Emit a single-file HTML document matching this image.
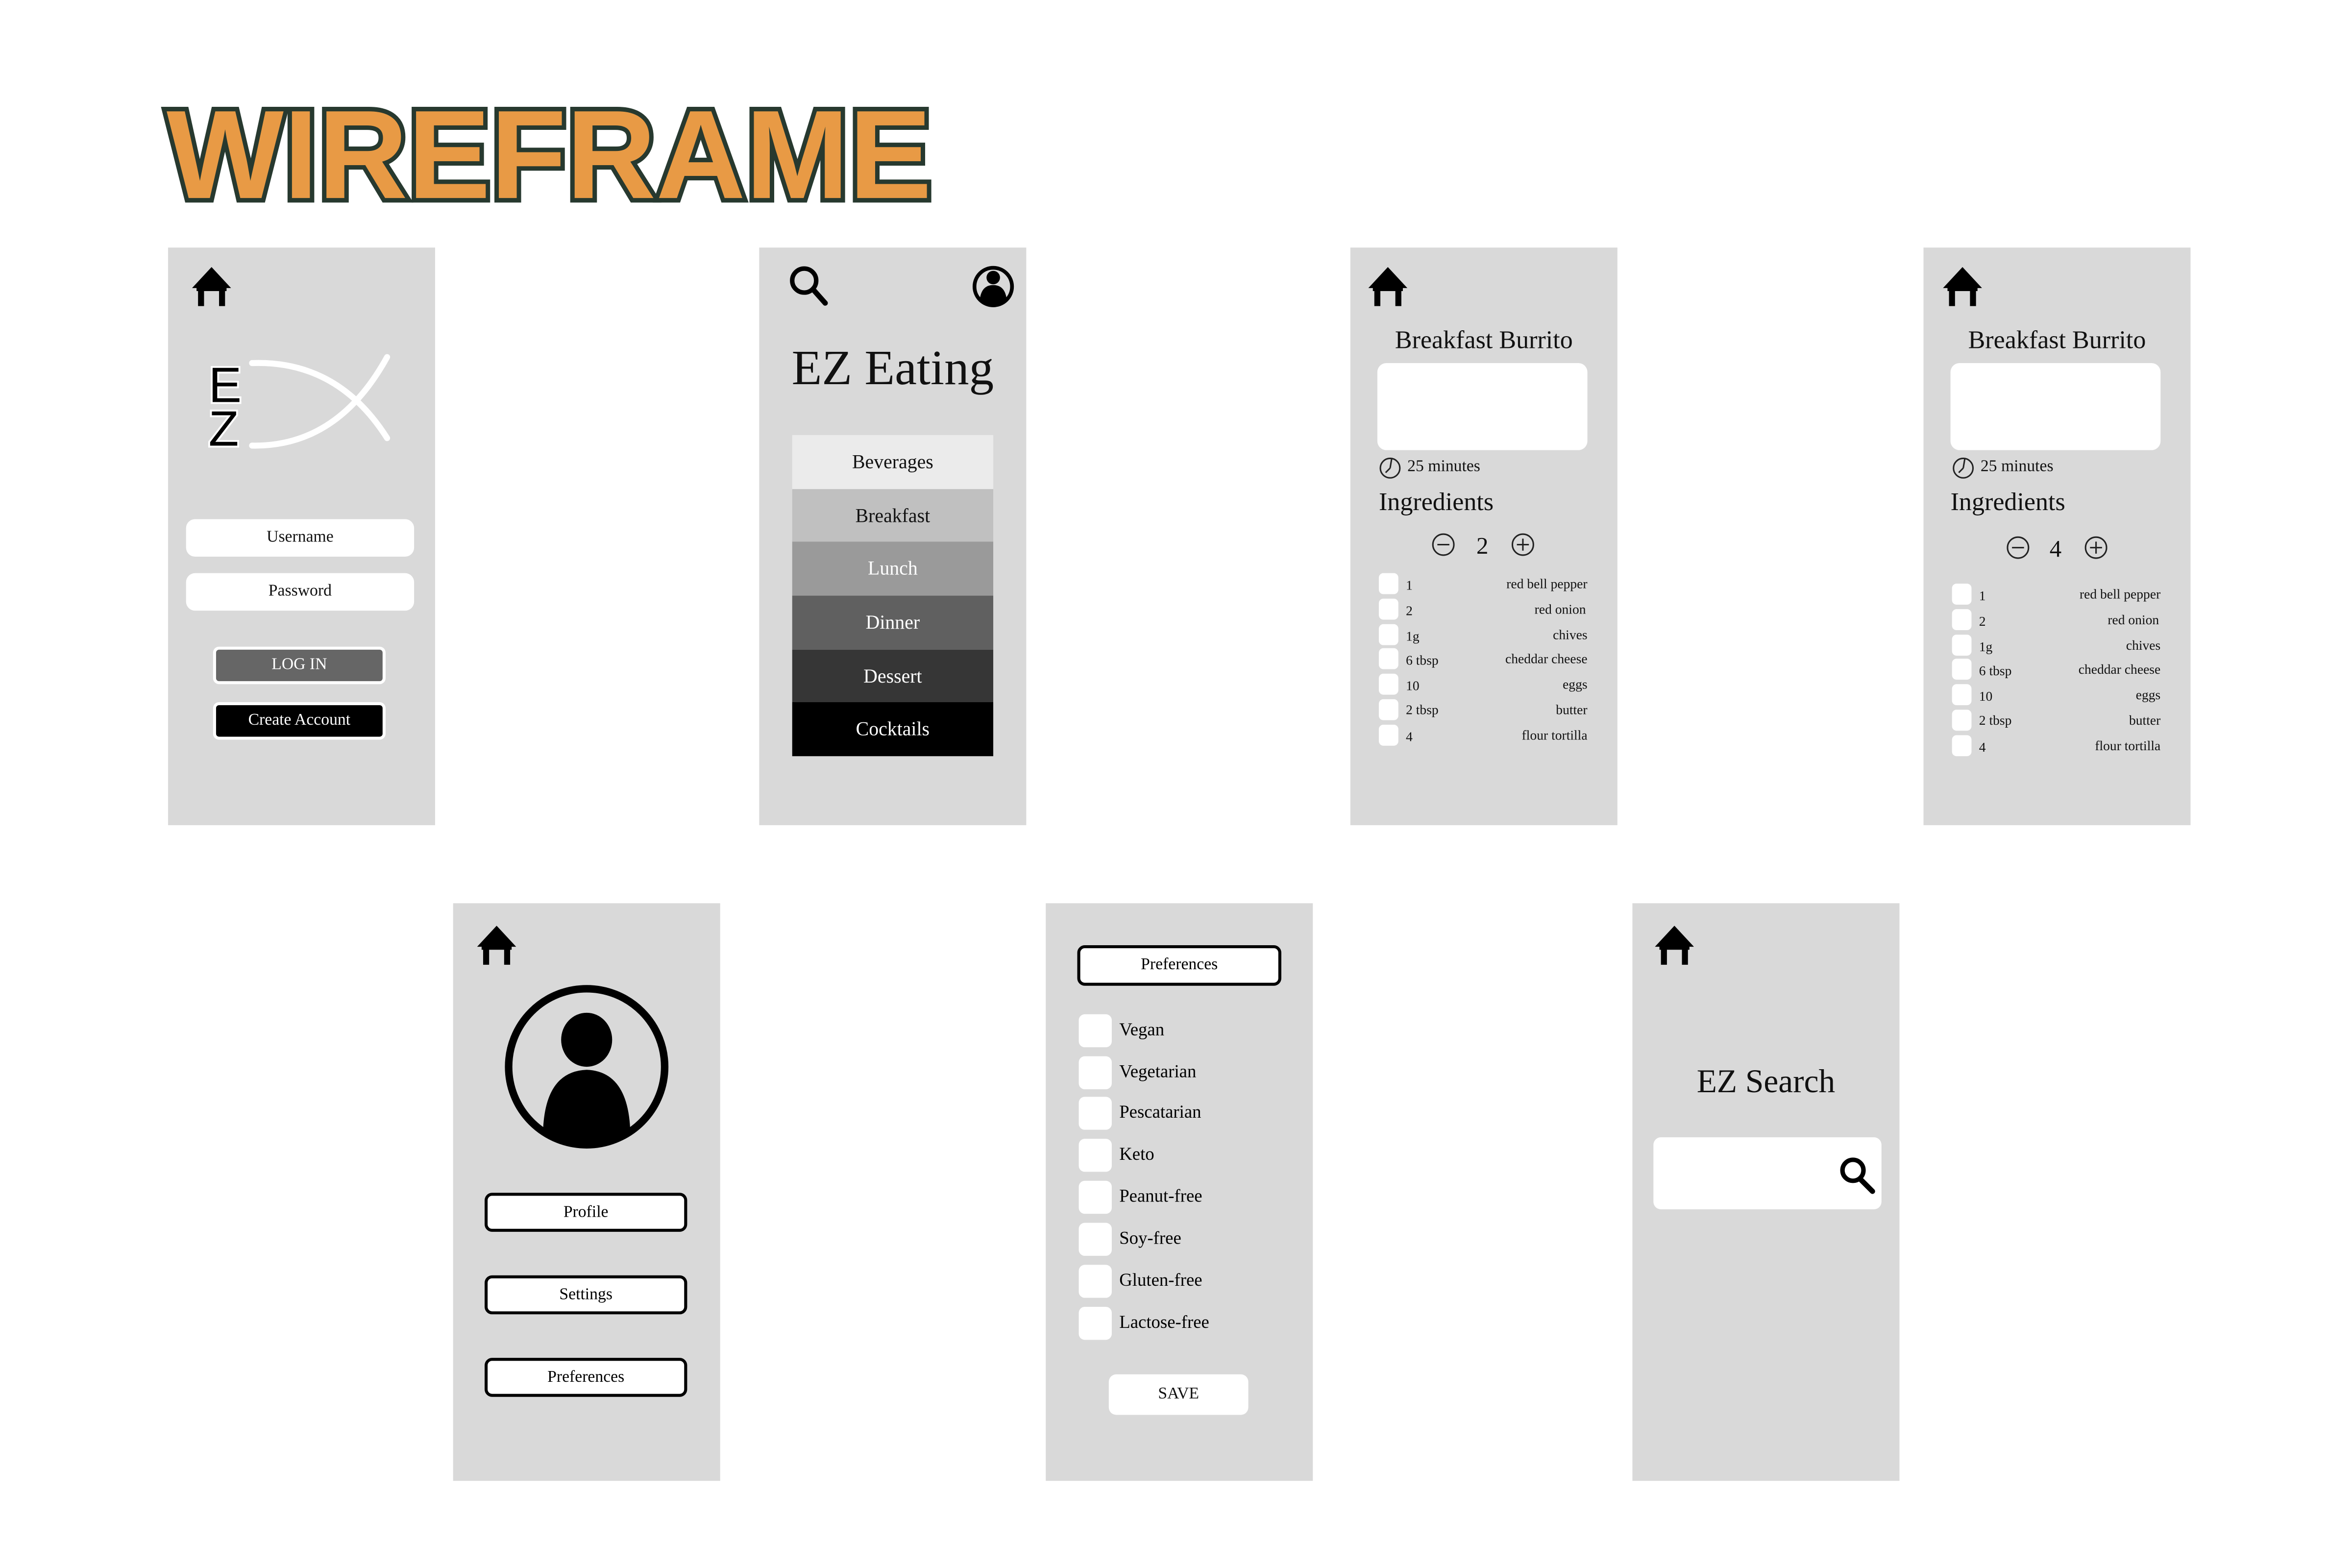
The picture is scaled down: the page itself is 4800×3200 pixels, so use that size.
<!DOCTYPE html>
<html><head><meta charset="utf-8"><style>
html,body{margin:0;padding:0;background:#fff;width:4800px;height:3200px;overflow:hidden}
#s{position:absolute;left:0;top:0;width:1560px;height:1040px;transform:scale(3.062);transform-origin:0 0;font-family:"Liberation Serif",serif}
.a{position:absolute}
.p{position:absolute;background:#d9d9d9;width:178px;height:385px}
.box{position:absolute;background:#fff;border-radius:6px;text-align:center;font-size:11px;color:#111}
.ob{position:absolute;background:#fff;border:2px solid #000;border-radius:5px;text-align:center;font-size:11px;box-sizing:border-box}
.cb{position:absolute;background:#fff;border-radius:3px}
.row{position:absolute;font-size:9px;color:#111;height:14px;line-height:14px}
.menu div{height:35.7px;line-height:35.7px;text-align:center;font-size:13px}
</style></head><body><div id="s">
<svg class="a" style="left:0;top:0" width="1560" height="1040">
<defs><g id="home"><polygon points="13,0 26,14 0,14" fill="#000"/><rect x="3" y="13" width="20" height="3" fill="#000"/><rect x="4" y="14" width="4" height="12" fill="#000"/><rect x="18" y="14" width="4" height="12" fill="#000"/></g></defs>
<text x="111" y="132" font-family="Liberation Sans,sans-serif" font-weight="bold" font-size="84" textLength="510" lengthAdjust="spacingAndGlyphs" fill="#e89a45" stroke="#27392f" stroke-width="6" paint-order="stroke">WIREFRAME</text>
</svg>

<!-- P1 -->
<div class="p" style="left:112px;top:165px"></div>
<svg class="a" style="left:0;top:0" width="1560" height="1040">
<use href="#home" x="128" y="178"/>
<path d="M168 242 Q225 240 258 292" stroke="#fff" stroke-width="4" fill="none" stroke-linecap="round"/>
<path d="M168 297 Q225 298 258 238" stroke="#fff" stroke-width="4" fill="none" stroke-linecap="round"/>
<text x="139" y="268" font-family="Liberation Sans,sans-serif" font-size="33" fill="#000" stroke="#fff" stroke-width="2.5" paint-order="stroke">E</text>
<text x="139" y="297" font-family="Liberation Sans,sans-serif" font-size="33" fill="#000" stroke="#fff" stroke-width="2.5" paint-order="stroke">Z</text>
</svg>
<div class="box" style="left:124px;top:346px;width:152px;height:25px;line-height:25px">Username</div>
<div class="box" style="left:124px;top:382px;width:152px;height:25px;line-height:25px">Password</div>
<div class="a" style="left:142px;top:431px;width:115px;height:25px;box-sizing:border-box;border:2px solid #fff;border-radius:4px;background:#666;color:#fff;font-size:11px;text-align:center;line-height:21px">LOG IN</div>
<div class="a" style="left:142px;top:468px;width:115px;height:25px;box-sizing:border-box;border:2px solid #fff;border-radius:4px;background:#000;color:#fff;font-size:11px;text-align:center;line-height:21px">Create Account</div>

<!-- P2 -->
<div class="p" style="left:506px;top:165px"></div>
<svg class="a" style="left:0;top:0" width="1560" height="1040">
<circle cx="536" cy="187" r="8" stroke="#000" stroke-width="3" fill="none"/>
<line x1="542" y1="193" x2="550" y2="202" stroke="#000" stroke-width="3.5" stroke-linecap="round"/>
<circle cx="662" cy="191" r="12.5" stroke="#000" stroke-width="2.5" fill="none"/>
<circle cx="662" cy="185" r="4.5" fill="#000"/>
<path d="M653 200 Q654 190 662 190 Q670 190 671 200 Q662 206 653 200Z" fill="#000"/>
</svg>
<div class="a" style="left:506px;top:228px;width:178px;text-align:center;font-size:33px;color:#111">EZ Eating</div>
<div class="a menu" style="left:528px;top:290px;width:134px">
<div style="background:#ebebeb;color:#111">Beverages</div>
<div style="background:#c0c0c0;color:#111">Breakfast</div>
<div style="background:#9a9a9a;color:#fff">Lunch</div>
<div style="background:#606060;color:#fff">Dinner</div>
<div style="background:#363636;color:#fff">Dessert</div>
<div style="background:#000;color:#fff">Cocktails</div>
</div>

<!-- P3 & P4 -->
<div class="p" style="left:900px;top:165px"></div>
<div class="p" style="left:1282px;top:165px"></div>
<svg class="a" style="left:0;top:0" width="1560" height="1040">
<use href="#home" x="912" y="178"/><use href="#home" x="1295" y="178"/>
<g fill="none" stroke="#222" stroke-width="1">
<circle cx="926.5" cy="312" r="6.5"/><line x1="926.5" y1="312" x2="927.5" y2="306"/><line x1="926.5" y1="312" x2="923.5" y2="315"/>
<circle cx="1308.5" cy="312" r="6.5"/><line x1="1308.5" y1="312" x2="1309.5" y2="306"/><line x1="1308.5" y1="312" x2="1305.5" y2="315"/>
<circle cx="962" cy="363" r="7"/><line x1="958" y1="363" x2="966" y2="363"/>
<circle cx="1015" cy="363" r="7"/><line x1="1011" y1="363" x2="1019" y2="363"/><line x1="1015" y1="359" x2="1015" y2="367"/>
<circle cx="1345" cy="365" r="7"/><line x1="1341" y1="365" x2="1349" y2="365"/>
<circle cx="1397" cy="365" r="7"/><line x1="1393" y1="365" x2="1401" y2="365"/><line x1="1397" y1="361" x2="1397" y2="369"/>
</g>
<text x="988" y="369" font-size="16" text-anchor="middle" font-family="Liberation Serif,serif" fill="#111">2</text>
<text x="1370" y="371" font-size="16" text-anchor="middle" font-family="Liberation Serif,serif" fill="#111">4</text>
</svg>
<div class="a" style="left:900px;top:217px;width:178px;text-align:center;font-size:17px;color:#111">Breakfast Burrito</div>
<div class="a" style="left:1282px;top:217px;width:178px;text-align:center;font-size:17px;color:#111">Breakfast Burrito</div>
<div class="box" style="left:918px;top:242px;width:140px;height:58px"></div>
<div class="box" style="left:1300px;top:242px;width:140px;height:58px"></div>
<div class="a" style="left:938px;top:305px;font-size:11px;color:#111">25 minutes</div>
<div class="a" style="left:1320px;top:305px;font-size:11px;color:#111">25 minutes</div>
<div class="a" style="left:919px;top:325px;font-size:17px;color:#111">Ingredients</div>
<div class="a" style="left:1300px;top:325px;font-size:17px;color:#111">Ingredients</div>
<!-- rows P3 -->
<div class="cb" style="left:919px;top:382px;width:13px;height:14px"></div><div class="row" style="left:937px;top:383px">1</div><div class="row" style="left:960px;top:382px;width:98px;text-align:right">red bell pepper</div>
<div class="cb" style="left:919px;top:399px;width:13px;height:14px"></div><div class="row" style="left:937px;top:400px">2</div><div class="row" style="left:960px;top:399px;width:97px;text-align:right">red onion</div>
<div class="cb" style="left:919px;top:416px;width:13px;height:14px"></div><div class="row" style="left:937px;top:417px">1g</div><div class="row" style="left:960px;top:416px;width:98px;text-align:right">chives</div>
<div class="cb" style="left:919px;top:432px;width:13px;height:14px"></div><div class="row" style="left:937px;top:433px">6 tbsp</div><div class="row" style="left:960px;top:432px;width:98px;text-align:right">cheddar cheese</div>
<div class="cb" style="left:919px;top:449px;width:13px;height:14px"></div><div class="row" style="left:937px;top:450px">10</div><div class="row" style="left:960px;top:449px;width:98px;text-align:right">eggs</div>
<div class="cb" style="left:919px;top:466px;width:13px;height:14px"></div><div class="row" style="left:937px;top:466px">2 tbsp</div><div class="row" style="left:960px;top:466px;width:98px;text-align:right">butter</div>
<div class="cb" style="left:919px;top:483px;width:13px;height:14px"></div><div class="row" style="left:937px;top:484px">4</div><div class="row" style="left:960px;top:483px;width:98px;text-align:right">flour tortilla</div>
<!-- rows P4 -->
<div class="cb" style="left:1301px;top:389px;width:13px;height:14px"></div><div class="row" style="left:1319px;top:390px">1</div><div class="row" style="left:1342px;top:389px;width:98px;text-align:right">red bell pepper</div>
<div class="cb" style="left:1301px;top:406px;width:13px;height:14px"></div><div class="row" style="left:1319px;top:407px">2</div><div class="row" style="left:1342px;top:406px;width:97px;text-align:right">red onion</div>
<div class="cb" style="left:1301px;top:423px;width:13px;height:14px"></div><div class="row" style="left:1319px;top:424px">1g</div><div class="row" style="left:1342px;top:423px;width:98px;text-align:right">chives</div>
<div class="cb" style="left:1301px;top:439px;width:13px;height:14px"></div><div class="row" style="left:1319px;top:440px">6 tbsp</div><div class="row" style="left:1342px;top:439px;width:98px;text-align:right">cheddar cheese</div>
<div class="cb" style="left:1301px;top:456px;width:13px;height:14px"></div><div class="row" style="left:1319px;top:457px">10</div><div class="row" style="left:1342px;top:456px;width:98px;text-align:right">eggs</div>
<div class="cb" style="left:1301px;top:473px;width:13px;height:14px"></div><div class="row" style="left:1319px;top:473px">2 tbsp</div><div class="row" style="left:1342px;top:473px;width:98px;text-align:right">butter</div>
<div class="cb" style="left:1301px;top:490px;width:13px;height:14px"></div><div class="row" style="left:1319px;top:491px">4</div><div class="row" style="left:1342px;top:490px;width:98px;text-align:right">flour tortilla</div>

<!-- P5 -->
<div class="p" style="left:302px;top:602px"></div>
<svg class="a" style="left:0;top:0" width="1560" height="1040">
<use href="#home" x="318" y="617"/>
<circle cx="391" cy="711" r="52" stroke="#000" stroke-width="5" fill="none"/>
<ellipse cx="391" cy="693" rx="17" ry="18" fill="#000"/>
<path d="M362 752 Q364 714 391 713 Q418 714 420 752 Q405 763 391 763 Q377 763 362 752Z" fill="#000"/>
</svg>
<div class="ob" style="left:323px;top:795px;width:135px;height:26px;line-height:22px">Profile</div>
<div class="ob" style="left:323px;top:850px;width:135px;height:26px;line-height:22px">Settings</div>
<div class="ob" style="left:323px;top:905px;width:135px;height:26px;line-height:22px">Preferences</div>

<!-- P6 -->
<div class="p" style="left:697px;top:602px"></div>
<div class="ob" style="left:718px;top:630px;width:136px;height:27px;line-height:23px">Preferences</div>
<div class="cb" style="left:719px;top:676px;width:22px;height:22px;border-radius:4px"></div><div class="a" style="left:746px;top:679px;font-size:12px">Vegan</div>
<div class="cb" style="left:719px;top:704px;width:22px;height:22px;border-radius:4px"></div><div class="a" style="left:746px;top:707px;font-size:12px">Vegetarian</div>
<div class="cb" style="left:719px;top:731px;width:22px;height:22px;border-radius:4px"></div><div class="a" style="left:746px;top:734px;font-size:12px">Pescatarian</div>
<div class="cb" style="left:719px;top:759px;width:22px;height:22px;border-radius:4px"></div><div class="a" style="left:746px;top:762px;font-size:12px">Keto</div>
<div class="cb" style="left:719px;top:787px;width:22px;height:22px;border-radius:4px"></div><div class="a" style="left:746px;top:790px;font-size:12px">Peanut-free</div>
<div class="cb" style="left:719px;top:815px;width:22px;height:22px;border-radius:4px"></div><div class="a" style="left:746px;top:818px;font-size:12px">Soy-free</div>
<div class="cb" style="left:719px;top:843px;width:22px;height:22px;border-radius:4px"></div><div class="a" style="left:746px;top:846px;font-size:12px">Gluten-free</div>
<div class="cb" style="left:719px;top:871px;width:22px;height:22px;border-radius:4px"></div><div class="a" style="left:746px;top:874px;font-size:12px">Lactose-free</div>
<div class="box" style="left:739px;top:916px;width:93px;height:27px;line-height:27px;border-radius:5px">SAVE</div>

<!-- P7 -->
<div class="p" style="left:1088px;top:602px"></div>
<svg class="a" style="left:0;top:0" width="1560" height="1040">
<use href="#home" x="1103" y="617"/>
</svg>
<div class="a" style="left:1088px;top:708px;width:178px;text-align:center;font-size:22px;color:#111">EZ Search</div>
<div class="box" style="left:1102px;top:758px;width:152px;height:48px;border-radius:5px"></div>
<svg class="a" style="left:0;top:0" width="1560" height="1040">
<circle cx="1235" cy="780" r="7" stroke="#000" stroke-width="3" fill="none"/>
<line x1="1240" y1="786" x2="1248" y2="794" stroke="#000" stroke-width="3.5" stroke-linecap="round"/>
</svg>
</div></body></html>
